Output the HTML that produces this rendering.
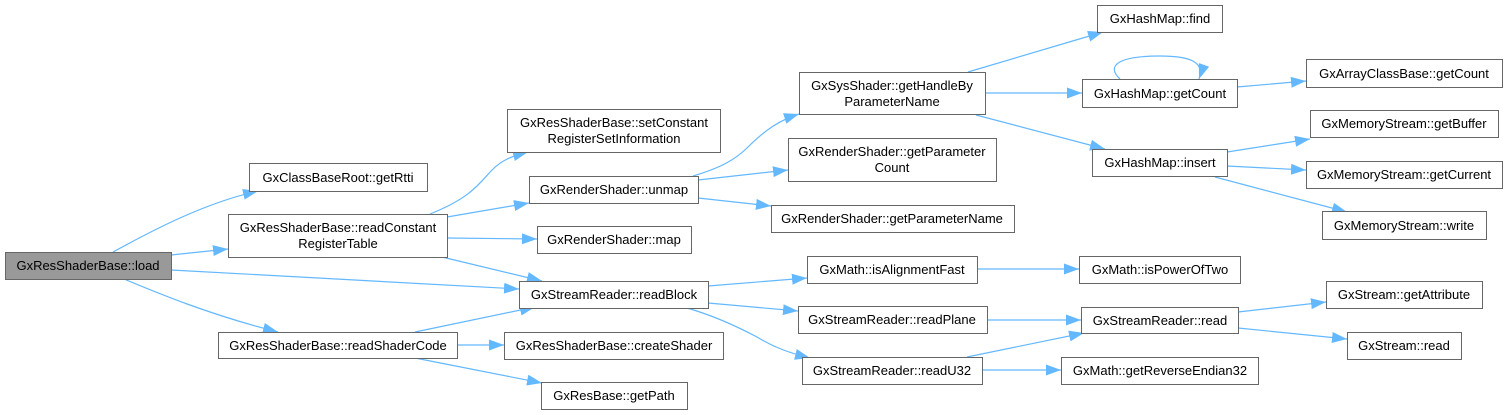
<!DOCTYPE html>
<html>
<head>
<meta charset="utf-8">
<style>
html,body{margin:0;padding:0;background:#fff;}
svg{display:block;}
text{font-family:"Liberation Sans",Arial,sans-serif;font-size:13px;fill:#000;text-anchor:middle;}
.n{fill:#fff;stroke:#666;stroke-width:1;}
.e{fill:none;stroke:#63b8ff;stroke-width:1.2;}
</style>
</head>
<body>
<svg width="1508" height="415" viewBox="0 0 1508 415" xmlns="http://www.w3.org/2000/svg">
<defs>
<marker id="a" markerUnits="userSpaceOnUse" markerWidth="16" markerHeight="12" refX="15" refY="5.5" orient="auto">
<path d="M0,0 L15,5.5 L0,11 z" fill="#63b8ff"/>
</marker>
</defs>

<!-- edges -->
<g class="edges">
<path class="e" marker-end="url(#a)" d="M113,252 C155,229 205,203 258,191"/>
<path class="e" marker-end="url(#a)" d="M171,255 L228,249"/>
<path class="e" marker-end="url(#a)" d="M171,270 L519,289"/>
<path class="e" marker-end="url(#a)" d="M124,279 C155,292 210,315 278,332"/>
<path class="e" marker-end="url(#a)" d="M430,214 C470,198 478,185 492,170 C502,160 512,156 528,152"/>
<path class="e" marker-end="url(#a)" d="M447,217 L529,203"/>
<path class="e" marker-end="url(#a)" d="M447,238 L537,239"/>
<path class="e" marker-end="url(#a)" d="M442,257 L542,281"/>
<path class="e" marker-end="url(#a)" d="M415,332 L535,307"/>
<path class="e" marker-end="url(#a)" d="M457,345 L504,345"/>
<path class="e" marker-end="url(#a)" d="M415,358 L542,383"/>
<path class="e" marker-end="url(#a)" d="M693,176 C720,168 735,160 748,147 C765,130 780,120 799,114"/>
<path class="e" marker-end="url(#a)" d="M698,180 L788,170"/>
<path class="e" marker-end="url(#a)" d="M698,198 L771,206"/>
<path class="e" marker-end="url(#a)" d="M708,286 L807,278"/>
<path class="e" marker-end="url(#a)" d="M708,303 L798,311"/>
<path class="e" marker-end="url(#a)" d="M687,308 C715,316 740,328 757,337 C775,348 790,353 810,358"/>
<path class="e" marker-end="url(#a)" d="M968,72 L1103,32"/>
<path class="e" marker-end="url(#a)" d="M985,93 L1082,93"/>
<path class="e" marker-end="url(#a)" d="M976,115 L1105,149"/>
<path class="e" marker-end="url(#a)" d="M1120,79 C1105,65 1120,56 1160,56 C1190,56 1205,62 1199,79"/>
<path class="e" marker-end="url(#a)" d="M1237,87 L1306,81"/>
<path class="e" marker-end="url(#a)" d="M1227,152 L1310,139"/>
<path class="e" marker-end="url(#a)" d="M1227,166 L1306,170"/>
<path class="e" marker-end="url(#a)" d="M1215,177 L1347,212"/>
<path class="e" marker-end="url(#a)" d="M977,269 L1079,269"/>
<path class="e" marker-end="url(#a)" d="M987,320 L1081,320"/>
<path class="e" marker-end="url(#a)" d="M967,357 L1084,333"/>
<path class="e" marker-end="url(#a)" d="M982,370 L1061,370"/>
<path class="e" marker-end="url(#a)" d="M1238,312 L1326,302"/>
<path class="e" marker-end="url(#a)" d="M1238,328 L1347,339"/>
</g>

<!-- nodes -->
<rect x="5.5" y="252.5" width="166" height="27" fill="#999" stroke="#666"/>
<text x="88" y="270">GxResShaderBase::load</text>

<rect class="n" x="249.5" y="163.5" width="178" height="28"/>
<text x="338" y="182">GxClassBaseRoot::getRtti</text>

<rect class="n" x="228.5" y="214.5" width="219" height="43"/>
<text x="338" y="232">GxResShaderBase::readConstant</text>
<text x="338" y="248">RegisterTable</text>

<rect class="n" x="218.5" y="332.5" width="239" height="26"/>
<text x="338" y="350">GxResShaderBase::readShaderCode</text>

<rect class="n" x="507.5" y="109.5" width="213" height="43"/>
<text x="614" y="127">GxResShaderBase::setConstant</text>
<text x="614" y="143">RegisterSetInformation</text>

<rect class="n" x="529.5" y="176.5" width="169" height="27"/>
<text x="614" y="194">GxRenderShader::unmap</text>

<rect class="n" x="537.5" y="226.5" width="154" height="27"/>
<text x="614" y="244">GxRenderShader::map</text>

<rect class="n" x="519.5" y="281.5" width="189" height="27"/>
<text x="614" y="299">GxStreamReader::readBlock</text>

<rect class="n" x="504.5" y="332.5" width="219" height="27"/>
<text x="614" y="350">GxResShaderBase::createShader</text>

<rect class="n" x="541.5" y="382.5" width="146" height="27"/>
<text x="614" y="400">GxResBase::getPath</text>

<rect class="n" x="799.5" y="72.5" width="186" height="42"/>
<text x="892" y="90">GxSysShader::getHandleBy</text>
<text x="892" y="106">ParameterName</text>

<rect class="n" x="788.5" y="138.5" width="208" height="43"/>
<text x="892" y="156">GxRenderShader::getParameter</text>
<text x="892" y="172">Count</text>

<rect class="n" x="771.5" y="205.5" width="243" height="27"/>
<text x="892" y="223">GxRenderShader::getParameterName</text>

<rect class="n" x="807.5" y="256.5" width="170" height="27"/>
<text x="892" y="274">GxMath::isAlignmentFast</text>

<rect class="n" x="798.5" y="306.5" width="189" height="27"/>
<text x="892" y="324">GxStreamReader::readPlane</text>

<rect class="n" x="802.5" y="357.5" width="180" height="27"/>
<text x="892" y="375">GxStreamReader::readU32</text>

<rect class="n" x="1097.5" y="5.5" width="125" height="27"/>
<text x="1160" y="23">GxHashMap::find</text>

<rect class="n" x="1082.5" y="79.5" width="155" height="28"/>
<text x="1160" y="98">GxHashMap::getCount</text>

<rect class="n" x="1092.5" y="149.5" width="135" height="27"/>
<text x="1160" y="167">GxHashMap::insert</text>

<rect class="n" x="1079.5" y="256.5" width="161" height="27"/>
<text x="1160" y="274">GxMath::isPowerOfTwo</text>

<rect class="n" x="1081.5" y="307.5" width="157" height="26"/>
<text x="1160" y="325">GxStreamReader::read</text>

<rect class="n" x="1061.5" y="357.5" width="197" height="27"/>
<text x="1160" y="375">GxMath::getReverseEndian32</text>

<rect class="n" x="1306.5" y="59.5" width="196" height="28"/>
<text x="1404" y="78">GxArrayClassBase::getCount</text>

<rect class="n" x="1310.5" y="110.5" width="188" height="27"/>
<text x="1404" y="128">GxMemoryStream::getBuffer</text>

<rect class="n" x="1306.5" y="161.5" width="196" height="27"/>
<text x="1404" y="179">GxMemoryStream::getCurrent</text>

<rect class="n" x="1322.5" y="211.5" width="164" height="28"/>
<text x="1404" y="230">GxMemoryStream::write</text>

<rect class="n" x="1326.5" y="281.5" width="156" height="27"/>
<text x="1404" y="299">GxStream::getAttribute</text>

<rect class="n" x="1347.5" y="332.5" width="114" height="27"/>
<text x="1404" y="350">GxStream::read</text>
</svg>
</body>
</html>
